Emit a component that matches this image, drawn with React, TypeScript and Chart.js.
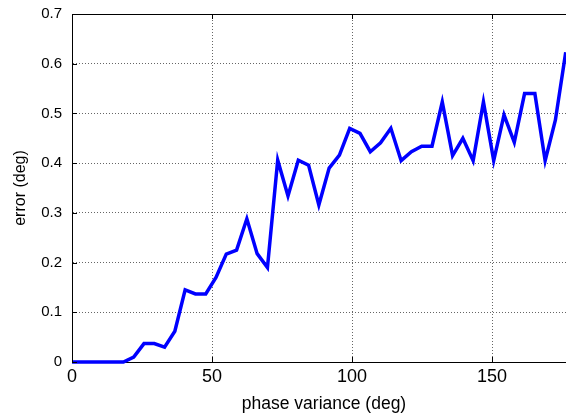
import { useEffect, useRef } from "react";
import { Chart, registerables } from "chart.js";

Chart.register(...registerables);

// Phase variance samples (deg)
const phaseVariance = [
  0, 3.67, 7.35, 11.02, 14.69, 18.37, 22.04, 25.71, 29.39, 33.06,
  36.73, 40.41, 44.08, 47.76, 51.43, 55.1, 58.78, 62.45, 66.12, 69.8,
  73.47, 77.14, 80.82, 84.49, 88.16, 91.84, 95.51, 99.18, 102.86, 106.53,
  110.2, 113.88, 117.55, 121.22, 124.9, 128.57, 132.24, 135.92, 139.59, 143.27,
  146.94, 150.61, 154.29, 157.96, 161.63, 165.31, 168.98, 172.65, 176.33,
];

// Estimated error (deg)
const errorDeg = [
  0, 0, 0, 0, 0, 0, 0.01, 0.037, 0.037, 0.03,
  0.062, 0.145, 0.137, 0.137, 0.17, 0.217, 0.225, 0.288, 0.218, 0.19,
  0.406, 0.334, 0.406, 0.396, 0.316, 0.39, 0.416, 0.47, 0.46, 0.423,
  0.441, 0.47, 0.405, 0.423, 0.434, 0.434, 0.523, 0.415, 0.45, 0.405,
  0.523, 0.405, 0.497, 0.442, 0.54, 0.54, 0.405, 0.487, 0.623,
];

const xTicks = [0, 50, 100, 150];
const xMax = 180;
const yMax = 0.7;

const FONT = "'Liberation Sans', Arial, sans-serif";
const GRID = "rgba(0,0,0,0.6)";

// Box frame on top and MATLAB-style inward tick marks
const frameTicks = {
  id: "frameTicks",
  afterDraw(chart: any) {
    const { ctx, chartArea } = chart;
    const { left, right, top, bottom } = chartArea;
    const xs = chart.scales.x;
    const ys = chart.scales.y;
    ctx.save();
    ctx.strokeStyle = "#000";
    ctx.lineWidth = 1;
    ctx.beginPath();
    ctx.moveTo(left, Math.round(top) + 0.5);
    ctx.lineTo(right, Math.round(top) + 0.5);
    const len = 5;
    for (const t of ys.ticks) {
      const y = Math.round(ys.getPixelForValue(t.value)) + 0.5;
      ctx.moveTo(left, y);
      ctx.lineTo(left + len, y);
    }
    for (const t of xs.ticks) {
      const x = Math.round(xs.getPixelForValue(t.value)) + 0.5;
      ctx.moveTo(x, bottom);
      ctx.lineTo(x, bottom - len);
      ctx.moveTo(x, top);
      ctx.lineTo(x, top + len);
    }
    ctx.stroke();
    ctx.restore();
  },
};

export default function App() {
  const ref = useRef<HTMLCanvasElement | null>(null);

  useEffect(() => {
    if (!ref.current) return;
    const chart = new Chart(ref.current, {
      type: "line",
      data: {
        datasets: [
          {
            data: phaseVariance.map((x, i) => ({ x, y: errorDeg[i] })),
            borderColor: "#0000ff",
            borderWidth: 3.5,
            pointRadius: 0,
            tension: 0,
            fill: false,
            clip: false,
          },
        ],
      },
      options: {
        animation: false,
        responsive: false,
        devicePixelRatio: 1,
        layout: { padding: { top: 14, right: 24, left: 0, bottom: 0 } },
        plugins: { legend: { display: false }, tooltip: { enabled: false } },
        scales: {
          x: {
            type: "linear",
            min: 0,
            max: xMax,
            afterBuildTicks: (s: any) => {
              s.ticks = xTicks.map((v) => ({ value: v }));
            },
            afterFit: (s: any) => {
              s.height = 56;
              s.paddingLeft = 0;
              s.paddingRight = 0;
            },
            grid: { color: GRID, lineWidth: 1, drawTicks: false },
            border: { color: "#000", width: 1, dash: [1, 2] },
            ticks: {
              color: "#000",
              font: { family: FONT, size: 18 },
              padding: 4,
              maxRotation: 0,
            },
            title: {
              display: true,
              text: "phase variance (deg)",
              color: "#000",
              font: { family: FONT, size: 17.5 },
              padding: { top: 0, bottom: 3 },
            },
          },
          y: {
            min: 0,
            max: yMax,
            afterFit: (s: any) => {
              s.width = 72;
              s.paddingTop = 0;
              s.paddingBottom = 0;
            },
            grid: { color: GRID, lineWidth: 1, drawTicks: false },
            border: { color: "#000", width: 1, dash: [1, 2] },
            ticks: {
              stepSize: 0.1,
              color: "#000",
              font: { family: FONT, size: 15 },
              padding: 10,
            },
            title: {
              display: true,
              text: "error (deg)",
              color: "#000",
              font: { family: FONT, size: 16 },
              padding: { top: 11, bottom: 0 },
            },
          },
        },
      },
      plugins: [frameTicks],
    });
    return () => chart.destroy();
  }, []);

  return (
    <div
      style={{
        position: "fixed",
        left: 0,
        top: 0,
        width: 566,
        height: 418,
        overflow: "hidden",
        background: "#fff",
      }}
    >
      <canvas ref={ref} width={600} height={418} style={{ display: "block" }} />
    </div>
  );
}
